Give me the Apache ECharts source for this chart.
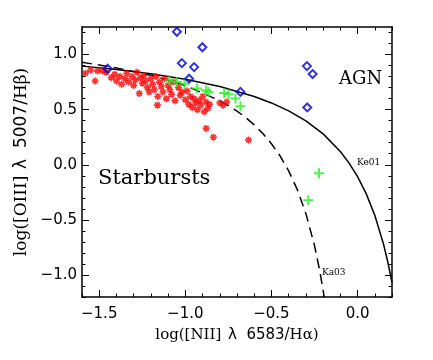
<!DOCTYPE html>
<html><head><meta charset="utf-8">
<script src="https://cdn.jsdelivr.net/npm/echarts@6/dist/echarts.min.js"></script>
<style>html,body{margin:0;padding:0;background:#fff}#c{width:433px;height:360px}</style>
</head><body><div id="c"></div>
<script>
// Axis tick labels
const xMajor = [-1.5, -1.0, -0.5, 0.0];
const yMajor = [-1.0, -0.5, 0.0, 0.5, 1.0];
const xMinor = [-1.6,-1.5,-1.4,-1.3,-1.2,-1.1,-1.0,-0.9,-0.8,-0.7,-0.6,-0.5,-0.4,-0.3,-0.2,-0.1,0.0,0.1,0.2];
const yMinor = [-1.2,-1.1,-1.0,-0.9,-0.8,-0.7,-0.6,-0.5,-0.4,-0.3,-0.2,-0.1,0.0,0.1,0.2,0.3,0.4,0.5,0.6,0.7,0.8,0.9,1.0,1.1,1.2];

// Ke01 curve (solid)
const ke01X = [-1.6,-1.4,-1.2,-1.0,-0.8,-0.6,-0.5,-0.4,-0.3,-0.2,-0.1,-0.05,0.0,0.05,0.1,0.15,0.175,0.2];
const ke01Y = [0.895,0.864,0.825,0.775,0.710,0.620,0.561,0.489,0.398,0.280,0.120,0.017,-0.108,-0.262,-0.459,-0.716,-0.878,-1.069];
// Ka03 curve (dashed)
const ka03X = [-1.6,-1.4,-1.2,-1.0,-0.8,-0.7,-0.65,-0.6,-0.55,-0.5,-0.45,-0.4,-0.35,-0.3,-0.25,-0.22,-0.2,-0.194];
const ka03Y = [0.930,0.879,0.812,0.719,0.582,0.487,0.429,0.362,0.283,0.191,0.080,-0.056,-0.225,-0.443,-0.733,-0.959,-1.140,-1.2];

// AGN (blue diamonds)
const agnX = [-1.049,-0.901,-1.020,-0.949,-0.978,-1.451,-0.680,-0.294,-0.261,-0.292];
const agnY = [1.207,1.066,0.922,0.886,0.781,0.871,0.661,0.895,0.823,0.520];

// Composite (green plus)
const compX = [-1.092,-1.049,-1.005,-0.933,-0.879,-0.866,-0.774,-0.749,-0.709,-0.680,-0.224,-0.286];
const compY = [0.766,0.750,0.736,0.691,0.676,0.661,0.652,0.640,0.601,0.532,-0.078,-0.321];

// Starbursts (red asterisks)
const sfX = [-1.58,-1.55,-1.524,-1.51,-1.48,-1.46,
 -1.43,-1.41,-1.40,-1.38,-1.37,-1.35,-1.34,-1.33,-1.31,-1.30,-1.29,-1.28,-1.267,-1.26,-1.25,
 -1.24,-1.23,-1.22,-1.21,-1.20,-1.19,-1.18,-1.17,-1.162,-1.16,-1.15,-1.14,-1.13,-1.12,-1.11,-1.10,-1.09,-1.08,-1.07,-1.06,
 -1.04,-1.03,-1.02,-1.00,-0.99,-0.98,-0.97,-0.96,-0.95,-0.94,-0.93,-0.92,-0.91,-0.90,-0.89,-0.88,-0.87,-0.86,
 -0.80,-0.78,-0.76,-0.879,-0.837,-0.633];
const sfY = [0.83,0.86,0.76,0.85,0.85,0.84,
 0.79,0.82,0.76,0.80,0.73,0.78,0.83,0.75,0.80,0.72,0.77,0.84,0.646,0.79,0.74,
 0.81,0.76,0.70,0.66,0.78,0.73,0.68,0.80,0.541,0.62,0.75,0.71,0.66,0.78,0.60,0.72,0.68,0.64,0.75,0.58,
 0.70,0.63,0.66,0.59,0.67,0.55,0.62,0.52,0.60,0.56,0.50,0.58,0.54,0.62,0.48,0.57,0.51,0.55,
 0.56,0.54,0.57,0.330,0.250,0.225];

const zip = (a, b) => a.map((v, i) => [v, b[i]]);

const chart = echarts.init(document.getElementById('c'), null, {renderer: 'canvas'});
const lblFont = {fontFamily: 'DejaVu Sans', fontSize: 15, color: '#000'};
const fmt = v => (v < 0 ? '\u2212' : '') + Math.abs(v).toFixed(1);
const axLine = {show: true, onZero: false, lineStyle: {color: '#000', width: 1.5}};
const noLine = {show: false, onZero: false};
const baseX = {type: 'value', min: -1.6, max: 0.2, gridIndex: 0, splitLine: {show: false}};
const baseY = {type: 'value', min: -1.2, max: 1.25, gridIndex: 0, splitLine: {show: false}};
const tickStyle = {color: '#000', width: 1};
const richFor = sz => ({rich: {s: {fontFamily: 'DejaVu Serif', fontSize: sz, color: '#000'}, a: {fontFamily: 'DejaVu Sans', fontSize: sz, color: '#000'}}});

chart.setOption({
  animation: false,
  grid: {left: 82, right: 41, top: 27, bottom: 63, containLabel: false},
  xAxis: [
    Object.assign({}, baseX, {position: 'bottom', axisLine: axLine,
      axisTick: {inside: true, length: 7, customValues: xMajor, lineStyle: tickStyle},
      axisLabel: Object.assign({customValues: xMajor, formatter: fmt, margin: 10}, lblFont),
      name: '{s|log([NII]}  {a|\u03bb  6583/}{s|H\u03b1)}', nameLocation: 'middle', nameGap: 31,
      nameTextStyle: richFor(15)}),
    Object.assign({}, baseX, {position: 'bottom', axisLine: noLine,
      axisTick: {inside: true, length: 3.5, customValues: xMinor, lineStyle: tickStyle}, axisLabel: {show: false}}),
    Object.assign({}, baseX, {position: 'top', axisLine: axLine,
      axisTick: {inside: true, length: 7, customValues: xMajor, lineStyle: tickStyle}, axisLabel: {show: false}}),
    Object.assign({}, baseX, {position: 'top', axisLine: noLine,
      axisTick: {inside: true, length: 3.5, customValues: xMinor, lineStyle: tickStyle}, axisLabel: {show: false}})
  ],
  yAxis: [
    Object.assign({}, baseY, {position: 'left', axisLine: axLine,
      axisTick: {inside: true, length: 7, customValues: yMajor, lineStyle: tickStyle},
      axisLabel: Object.assign({customValues: yMajor, formatter: fmt, margin: 5}, lblFont),
      name: '{s|log([OIII]}  {a|\u03bb  5007/}{s|H\u03b2)}', nameLocation: 'middle', nameGap: 38, nameRotate: 90,
      nameTextStyle: richFor(17)}),
    Object.assign({}, baseY, {position: 'left', axisLine: noLine,
      axisTick: {inside: true, length: 3.5, customValues: yMinor, lineStyle: tickStyle}, axisLabel: {show: false}}),
    Object.assign({}, baseY, {position: 'right', axisLine: axLine,
      axisTick: {inside: true, length: 7, customValues: yMajor, lineStyle: tickStyle}, axisLabel: {show: false}}),
    Object.assign({}, baseY, {position: 'right', axisLine: noLine,
      axisTick: {inside: true, length: 3.5, customValues: yMinor, lineStyle: tickStyle}, axisLabel: {show: false}})
  ],
  series: [
    {type: 'scatter', data: zip(sfX, sfY), symbol: 'path://M0,5L10,5M5,0L5,10M1.5,1.5L8.5,8.5M8.5,1.5L1.5,8.5',
      symbolSize: 7, itemStyle: {color: 'transparent', borderColor: '#ff0000', borderWidth: 1.6}, z: 3},
    {type: 'line', data: zip(ke01X, ke01Y), showSymbol: false, lineStyle: {color: '#000', width: 1.5}, z: 2},
    {type: 'line', data: zip(ka03X, ka03Y), showSymbol: false, lineStyle: {color: '#000', width: 1.5, type: [10, 6]}, z: 2},
    {type: 'scatter', data: zip(compX, compY), symbol: 'path://M0,5L10,5M5,0L5,10',
      symbolSize: 10, itemStyle: {color: 'transparent', borderColor: '#22ee22', borderWidth: 2}, z: 4},
    {type: 'scatter', data: zip(agnX, agnY), symbol: 'diamond',
      symbolSize: 8, itemStyle: {color: 'transparent', borderColor: '#0000cc', borderWidth: 2}, z: 5}
  ],
  graphic: [
    {type: 'text', left: 339, top: 70, style: {text: 'AGN', font: '18px "DejaVu Serif"', fill: '#000'}},
    {type: 'text', left: 98, top: 168, style: {text: 'Starbursts', font: '21px "DejaVu Serif"', fill: '#000'}},
    {type: 'text', left: 357, top: 158, style: {text: 'Ke01', font: '9px "DejaVu Serif"', fill: '#000'}},
    {type: 'text', left: 322, top: 268, style: {text: 'Ka03', font: '9px "DejaVu Serif"', fill: '#000'}}
  ]
});
</script></body></html>
